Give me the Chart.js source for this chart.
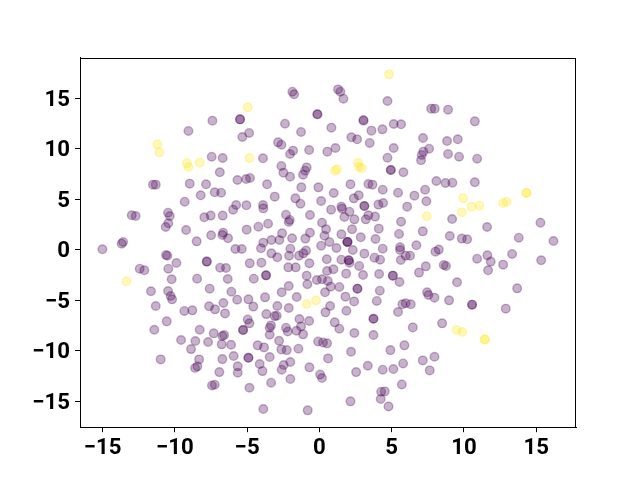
<!DOCTYPE html>
<html>
<head>
<meta charset="utf-8">
<style>html,body{margin:0;padding:0;background:#fff}#w{width:640px;height:480px}</style>
<script src="https://cdn.jsdelivr.net/npm/chart.js@4"></script>
</head>
<body>
<div id="w"><canvas id="c" width="640" height="480"></canvas></div>
<script>
const class0X = [
-5.49,-5.49,-7.40,-9.06,-5.33,-4.86,-7.45,-6.69,-6.89,-5.67,
-5.07,-4.80,-11.51,-11.32,-8.97,-7.84,-1.87,-1.75,1.29,1.45,
1.66,4.71,-0.14,-0.14,3.05,3.05,-2.38,-1.27,0.83,3.60,
4.36,5.14,5.65,2.21,2.61,3.48,-2.86,-2.63,-1.82,-2.03,
-0.71,0.55,1.11,5.14,4.71,-3.90,-2.63,-2.49,-2.03,-0.88,
-0.99,-1.13,4.94,4.94,5.81,-3.62,-1.25,-0.07,2.15,3.39,
3.67,4.38,7.73,7.98,8.90,10.75,7.17,8.83,9.57,7.59,
7.19,7.08,7.03,8.90,9.66,10.91,8.09,8.72,9.20,10.75,
7.31,-7.24,-6.80,-8.21,-9.32,-5.76,-5.97,-5.05,-12.98,-12.71,
-10.47,-10.35,-10.45,-10.63,-7.96,-7.52,-6.69,-9.22,-7.49,-6.66,
-6.71,-6.32,-5.03,-8.49,-13.58,-13.68,-15.01,-5.81,-5.37,-10.61,
-10.52,-9.89,-7.79,-7.79,-4.82,-6.87,-6.46,-10.45,-12.43,-12.11,
-10.22,-8.46,-6.34,-11.65,-10.47,-10.29,-10.19,-7.59,-6.09,-5.69,
-4.91,-6.64,-11.32,-7.63,-9.34,-8.79,-7.22,-3.09,-1.66,-1.31,
0.12,0.99,2.38,2.72,5.44,-3.90,-3.88,3.11,3.11,1.52,
1.57,0.81,2.08,4.08,4.41,6.07,-2.31,-0.65,-2.05,-2.12,
0.18,1.73,2.42,3.39,3.21,3.85,5.65,-4.22,-3.55,0.46,
2.26,4.11,5.51,-2.58,-0.65,0.35,-1.89,-0.97,-2.77,-3.32,
-3.88,-4.04,1.52,2.86,3.88,1.94,1.94,1.94,0.69,1.18,
0.12,2.31,4.38,5.58,5.58,5.97,6.27,-2.01,-3.32,-2.91,
-2.10,-1.41,-1.11,-0.92,3.11,3.81,4.20,5.63,0.51,1.52,
2.03,2.03,2.08,-4.01,-0.69,-2.15,-1.64,2.75,0.97,0.53,
1.85,3.02,4.13,5.08,5.08,5.54,-3.69,-3.69,-4.54,-0.88,
-0.83,-0.18,0.18,0.58,0.78,1.38,0.39,-2.12,-2.61,-1.57,
-3.76,-4.57,-2.12,2.63,2.63,4.18,1.80,2.40,3.97,5.74,
5.97,0.74,6.57,7.40,9.18,7.15,11.60,15.29,9.02,9.85,
10.22,13.79,16.19,6.71,8.26,8.03,10.91,11.62,11.85,11.67,
12.71,13.33,15.34,8.60,8.76,7.36,6.89,9.52,13.68,7.45,
7.54,7.96,8.97,10.56,10.56,12.89,6.32,-3.67,-2.91,0.42,
1.87,5.44,-3.09,-2.95,-4.96,-4.84,-5.28,-5.28,-1.38,-0.71,
1.06,1.38,2.42,3.74,3.74,3.74,-3.35,-3.44,-3.44,
-2.31,-2.19,-1.59,-1.27,-1.13,-2.79,-4.27,-3.83,-2.63,-2.26,
-1.45,-0.09,0.25,0.53,2.19,4.91,5.88,-4.91,-4.91,-3.44,
0.60,-4.13,-3.94,-2.01,-2.47,-2.61,-0.69,0.05,0.18,2.54,
3.35,4.38,5.12,5.79,5.70,-3.34,-2.01,-4.84,4.27,4.52,
4.24,4.78,2.15,-3.88,-0.81,-6.53,-10.56,-11.42,-8.28,-7.31,
-6.59,-6.71,-9.57,-8.58,-7.70,-6.76,-6.11,-8.88,-5.93,
-10.98,-8.32,-6.71,-8.44,-8.60,-5.65,-5.65,-6.92,-7.24,-7.43,
6.46,8.49,7.15,7.96,7.63
];
const class0Y = [
12.93,12.93,12.80,11.78,11.18,11.58,9.23,9.10,7.68,6.92,
7.02,7.12,6.46,6.46,6.56,6.49,15.67,15.41,15.90,15.67,
14.98,14.75,13.43,13.43,12.87,12.80,12.50,11.68,12.11,11.81,
11.94,12.47,12.44,11.15,10.95,10.59,10.65,10.42,9.83,9.50,
9.89,9.73,10.09,10.09,9.13,9.07,8.31,7.65,7.25,8.17,
7.84,7.45,7.91,7.91,7.68,6.49,6.19,6.19,6.49,6.52,
6.46,5.96,13.99,13.99,13.89,12.73,11.08,10.78,10.95,10.02,
9.73,9.40,8.87,9.50,9.23,9.03,6.82,6.62,6.65,6.69,
5.96,5.70,5.66,5.40,4.77,4.44,3.98,4.41,3.42,3.35,
3.68,3.35,2.63,2.26,3.22,3.39,3.39,1.96,1.44,1.70,
1.47,1.14,2.00,0.84,0.78,0.61,0.05,0.08,0.08,-0.51,
-0.58,-1.31,-1.17,-1.17,-1.34,-1.77,-1.80,-1.87,-1.87,-2.03,
-2.92,-2.86,-2.89,-4.11,-4.08,-4.58,-4.91,-3.85,-4.15,-4.94,
-4.91,-5.27,-5.57,-5.60,-6.06,-6.00,-5.90,5.27,5.10,4.57,
4.84,5.63,5.10,5.40,5.66,4.44,4.11,4.34,4.34,4.28,
4.08,3.98,3.78,4.48,4.64,4.28,3.48,3.45,2.96,2.76,
2.69,3.25,3.02,3.42,3.02,3.29,2.79,2.29,2.59,2.03,
2.03,2.10,1.57,1.63,1.70,1.40,1.14,1.11,0.97,0.97,
0.71,0.15,1.54,1.24,1.07,0.78,0.78,0.78,0.78,0.18,
0.41,-0.02,0.11,0.25,-0.02,-0.58,-0.58,0.11,-0.35,-0.74,
-0.58,-0.58,-0.35,-0.08,-0.38,-0.78,-0.98,-1.01,-0.94,-0.98,
-1.04,-1.04,-1.27,-1.27,-1.34,-1.74,-1.74,-1.60,-1.93,-2.10,
-2.36,-2.50,-2.40,-2.56,-2.56,-3.19,-2.53,-2.53,-2.86,-2.56,
-3.42,-2.99,-2.92,-3.09,-3.65,-3.68,-4.21,-3.59,-4.21,-4.68,
-4.71,-5.63,-5.77,-3.85,-3.85,-4.05,-4.64,-5.11,-5.07,-5.40,
-5.30,-5.57,5.37,4.81,3.05,1.83,2.26,2.69,1.37,1.11,
1.04,1.20,0.87,0.45,0.02,-0.18,-0.88,-0.55,-1.17,-2.03,
-1.47,-0.41,-1.04,-1.50,-1.60,-1.64,-2.26,-3.22,-3.82,-4.21,
-4.48,-4.74,-5.01,-5.44,-5.44,-5.83,-5.40,-6.37,-5.57,-6.20,
-6.04,-6.17,-6.57,-6.53,-6.90,-7.29,-7.95,-7.95,-6.86,-7.06,
-7.19,-7.82,-8.25,-6.83,-6.83,-8.45,-7.49,-7.72,-8.42,
-7.72,-8.09,-8.02,-7.59,-8.38,-9.01,-9.47,-9.67,-9.87,-9.94,
-9.80,-9.08,-9.18,-9.27,-10.10,-9.94,-9.47,-10.70,-10.70,-10.63,
-10.76,-11.32,-12.02,-11.12,-11.42,-11.88,-11.65,-12.35,-12.71,-12.12,
-11.49,-11.88,-11.82,-11.26,-13.34,-13.17,-12.81,-13.67,-14.06,-14.03,
-14.79,-15.52,-15.02,-15.78,-15.91,-6.30,-7.09,-7.92,-7.92,-8.28,
-8.45,-8.55,-8.94,-9.04,-9.14,-9.37,-9.41,-9.84,-10.53,
-10.86,-10.86,-10.83,-11.55,-11.72,-11.55,-12.18,-12.12,-13.37,-13.44,
-7.69,-7.29,-10.96,-10.60,-11.95
];
const class1X = [-4.96,-11.21,-11.07,-9.16,-9.06,-8.28,-4.84,4.82,1.08,1.22,2.68,2.75,2.93,-13.35,-0.88,-0.23,14.32,14.32,9.94,10.52,11.07,9.85,12.71,12.94,7.43,9.48,9.89,11.44,11.44];
const class1Y = [14.12,10.45,9.66,8.57,8.21,8.64,9.10,17.39,7.84,7.98,8.60,8.21,8.08,-3.12,-5.37,-5.01,5.63,5.63,5.10,4.28,4.38,3.72,4.64,4.77,3.32,-7.95,-8.15,-8.88,-8.88];

const toPoints = (xs, ys) => xs.map((x, i) => ({x, y: ys[i]}));
const frame = {
  id: 'frame',
  afterDatasetsDraw(chart) {
    const {ctx, chartArea: a} = chart;
    ctx.save();
    ctx.strokeStyle = '#000';
    ctx.lineWidth = 1;
    ctx.strokeRect(Math.round(a.left) + 0.5, Math.round(a.top) + 0.5, Math.round(a.width) - 1, Math.round(a.height) - 1);
    ctx.restore();
  }
};
const tickFont = {family: 'Roboto', size: 22.2, weight: '700'};
const fmt = v => String(v).replace('-', '\u2212');
new Chart(document.getElementById('c'), {
  type: 'scatter',
  plugins: [frame],
  data: {datasets: [
    {data: toPoints(class0X, class0Y), backgroundColor: 'rgba(68,1,84,0.3)', borderColor: 'rgba(68,1,84,0.3)'},
    {data: toPoints(class1X, class1Y), backgroundColor: 'rgba(253,231,37,0.3)', borderColor: 'rgba(253,231,37,0.3)'}
  ]},
  options: {
    responsive: false,
    animation: false,
    layout: {padding: {top: 57.6, right: 64, left: 0, bottom: 0}},
    elements: {point: {radius: 4.3, borderWidth: 1.4, hoverRadius: 4.3}},
    plugins: {legend: {display: false}, tooltip: {enabled: false}},
    scales: {
      x: {
        type: 'linear', min: -16.56, max: 17.75,
        afterFit(s) { s.height = 52.8; },
        border: {color: '#000', width: 1},
        grid: {drawOnChartArea: false, tickLength: 5, tickColor: '#000', tickWidth: 1},
        ticks: {stepSize: 5, includeBounds: false, maxRotation: 0, autoSkip: false, color: '#000', font: tickFont, padding: 3, callback: fmt}
      },
      y: {
        type: 'linear', min: -17.58, max: 19.05,
        afterFit(s) { s.width = 80; },
        border: {color: '#000', width: 1},
        grid: {drawOnChartArea: false, tickLength: 5, tickColor: '#000', tickWidth: 1},
        ticks: {stepSize: 5, includeBounds: false, autoSkip: false, color: '#000', font: tickFont, padding: 5, labelOffset: 2, callback: fmt}
      }
    }
  }
});
</script>
</body>
</html>
